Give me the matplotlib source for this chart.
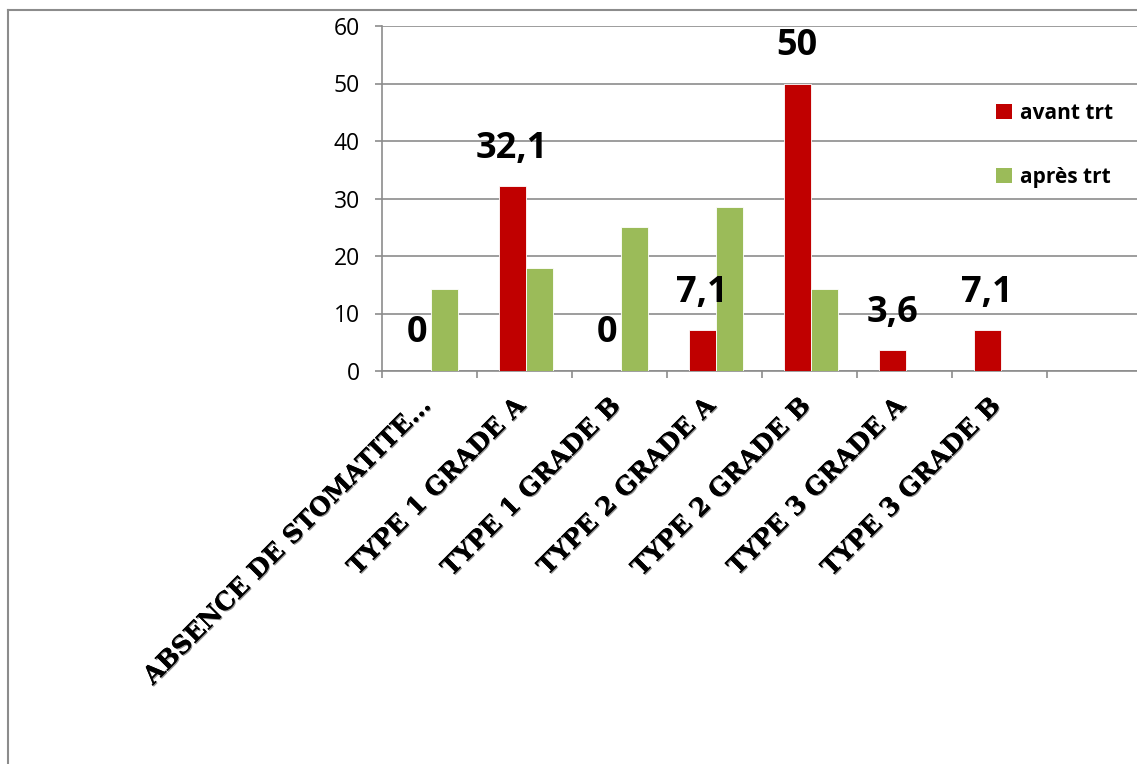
import matplotlib
matplotlib.use("Agg")
import matplotlib.pyplot as plt
import matplotlib.patheffects as pe
from matplotlib.lines import Line2D
from matplotlib.patches import Patch
import numpy as np

# categories and percentages before / after treatment
categories = ["ABSENCE DE STOMATITE…", "TYPE 1 GRADE A", "TYPE 1 GRADE B",
              "TYPE 2 GRADE A", "TYPE 2 GRADE B", "TYPE 3 GRADE A", "TYPE 3 GRADE B"]
avant = [0, 32.1, 0, 7.1, 50, 3.6, 7.1]
apres = [14.3, 17.9, 25, 28.6, 14.3, 0, 0]
series_names = ["avant trt", "après trt"]
y_ticks = [0, 10, 20, 30, 40, 50, 60]

RED = "#C00000"
GREEN = "#9BBB59"
GRID = "#8C8C8C"

W, H = 1137, 764
fig = plt.figure(figsize=(W / 100, H / 100), dpi=100)
ax = fig.add_axes([382 / W, 1 - 371 / H, 1 - 382 / W, (371 - 26) / H])

x = np.arange(len(categories))
bw = 0.285
bars_av = ax.bar(x - 0.13, avant, bw, color=RED, edgecolor="white", linewidth=0.6, zorder=3)
ax.bar(x + 0.16, apres, bw, color=GREEN, edgecolor="white", linewidth=0.6, zorder=3)

# value labels on the "avant" bars
for rect, v in zip(bars_av, avant):
    ax.annotate(f"{v:g}".replace(".", ","),
                (rect.get_x() + rect.get_width() / 2, v),
                xytext=(0, 27), textcoords="offset points",
                ha="center", va="center", fontsize=26, fontweight="bold",
                family="Open Sans", zorder=4)

ax.set_xlim(-0.5, (W - 382) / 95 - 0.5)
ax.set_ylim(0, 60)
ax.set_yticks(y_ticks)
ax.yaxis.grid(True, color=GRID, linewidth=1.2, zorder=0)
ax.set_axisbelow(True)

ax.set_xticks(np.arange(len(categories) + 1) - 0.5)
ax.set_xticklabels([])
ax.tick_params(axis="x", length=5, width=1.2, color=GRID)
ax.tick_params(axis="y", length=5, width=1.2, color=GRID, pad=11, labelsize=16.5)
for lbl in ax.get_yticklabels():
    lbl.set_family("Open Sans")

for side in ("top", "right"):
    ax.spines[side].set_visible(False)
for side in ("left", "bottom"):
    ax.spines[side].set_color(GRID)
    ax.spines[side].set_linewidth(1.2)

# rotated category names
shadow = [pe.withSimplePatchShadow(offset=(0.8, -0.8), shadow_rgbFace="#777777", alpha=0.8),
          pe.Normal()]
for i, name in enumerate(categories):
    ax.annotate(name, (i, 0), xytext=(-3, -31), textcoords="offset pixels",
                rotation=45, rotation_mode="anchor", ha="right", va="center",
                fontsize=18, fontweight="bold", family="DejaVu Serif",
                path_effects=shadow, annotation_clip=False)

handles = [Patch(facecolor=RED), Patch(facecolor=GREEN)]
leg = fig.legend(handles, series_names, loc="upper left",
                 bbox_to_anchor=(996 / W, 1 - 103 / H), frameon=False,
                 prop={"family": "Open Sans", "weight": "bold", "size": 15},
                 handlelength=0.75, handleheight=0.75, handletextpad=0.4,
                 labelspacing=2.05, borderpad=0, borderaxespad=0)

# outer chart frame
fig.add_artist(Line2D([8 / W, 8 / W], [0, 1 - 10 / H], color=GRID, linewidth=1.5))
fig.add_artist(Line2D([8 / W, 1], [1 - 10 / H, 1 - 10 / H], color=GRID, linewidth=1.5))

fig.savefig("out.png", dpi=100)
